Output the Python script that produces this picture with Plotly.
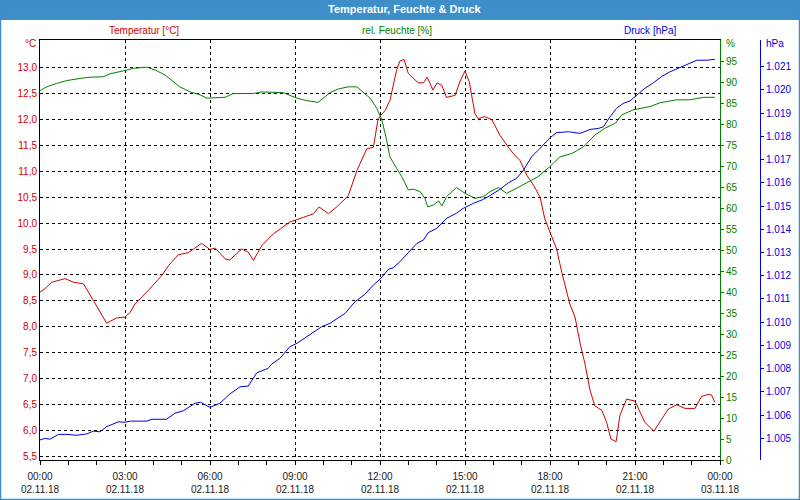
import plotly.graph_objects as go

DAY = "2018-11-02 "

temp_times = ["00:00","00:11","00:25","00:35","00:53","01:11","01:32","01:53","02:21","02:42","03:00","03:11","03:21","03:46",
              "04:18","04:32","04:53","05:14","05:42","06:00","06:11","06:32","06:42","07:07","07:21","07:32","07:50","08:14",
              "08:49","09:18","09:39","09:51","10:11","10:32","10:53","11:11","11:32","11:46","11:56","12:11","12:21","12:35",
              "12:42","12:51","13:00","13:21","13:32","13:40","13:52","14:01","14:11","14:21","14:39","14:49","15:00","15:09",
              "15:21","15:28","15:42","15:57","16:14","16:32","16:42","16:56","17:11","17:25","17:39","17:49","18:00","18:14",
              "18:25","18:42","18:53","19:04","19:14","19:25","19:35","19:50","20:00","20:09","20:20","20:28","20:42","21:00",
              "21:21","21:40","21:57","22:11","22:28","22:46","23:07","23:21","23:35","23:42","23:49"]
temp_vals = [8.67,8.74,8.86,8.89,8.93,8.86,8.83,8.51,8.07,8.17,8.19,8.28,8.44,8.67,
             8.99,9.18,9.39,9.43,9.61,9.49,9.52,9.31,9.29,9.50,9.44,9.28,9.57,9.79,
             10.02,10.11,10.18,10.31,10.18,10.34,10.53,11.01,11.43,11.46,12.01,12.17,12.36,12.94,
             13.12,13.15,12.88,12.70,12.70,12.81,12.56,12.70,12.65,12.42,12.46,12.72,12.93,12.72,
             12.11,12.01,12.05,11.99,11.69,11.46,11.34,11.21,10.92,10.73,10.50,10.08,9.82,9.50,
             9.05,8.44,8.19,7.67,7.29,6.77,6.48,6.39,6.16,5.84,5.79,6.29,6.61,6.57,
             6.16,5.99,6.23,6.42,6.50,6.43,6.43,6.66,6.70,6.69,6.55]

hum_times = ["00:00","00:14","00:35","00:57","01:25","01:46","02:14","02:28","03:00","03:18","03:46","04:04","04:25","04:42",
             "04:56","05:18","05:39","05:53","06:32","06:49","07:32","07:50","08:35","09:04","09:25","09:49","10:14","10:32",
             "10:53","11:11","11:39","11:53","12:04","12:14","12:21","12:35","12:46","13:00","13:11","13:25","13:35","13:41",
             "13:53","14:04","14:11","14:21","14:42","15:00","15:21","15:39","15:53","16:11","16:28","16:49","17:11","17:35",
             "18:00","18:21","18:46","19:11","19:35","19:56","20:18","20:32","20:56","21:32","21:53","22:28","22:56","23:25","23:49"]
hum_vals = [88.1,89.0,89.8,90.5,91.0,91.3,91.4,92.1,92.9,93.4,93.7,93.0,91.8,90.2,
            89.0,87.8,87.1,86.3,86.5,87.4,87.4,87.8,87.6,86.3,85.7,85.3,87.6,88.5,
            89.0,89.0,86.3,83.9,81.1,76.3,72.3,69.6,67.6,64.4,64.6,64.0,62.4,60.4,
            60.8,61.8,60.6,62.8,65.0,63.6,62.4,62.8,64.0,65.0,63.6,64.8,66.1,67.6,
            70.0,72.3,73.1,74.7,77.5,79.1,80.3,82.3,83.5,84.3,85.2,85.9,85.9,86.5,86.5]

pres_times = ["00:00","00:11","00:21","00:39","00:57","01:18","01:39","01:53","02:07","02:21","02:46","03:00","03:11","03:46",
              "03:57","04:28","04:46","05:04","05:28","05:40","06:00","06:21","06:42","07:04","07:21","07:39","08:03","08:11",
              "08:28","08:49","09:04","09:25","09:56","10:14","10:46","11:07","11:28","11:46","12:00","12:18","12:28","12:42",
              "13:04","13:18","13:32","13:42","14:00","14:21","14:42","14:56","15:18","15:39","15:53","16:14","16:32","16:49",
              "17:04","17:21","17:42","18:00","18:14","18:39","19:04","19:25","19:42","19:53","20:07","20:21","20:35","20:49",
              "21:04","21:21","21:39","21:56","22:14","22:35","22:53","23:11","23:32","23:49"]
pres_vals = [1004.93,1005.00,1004.96,1005.17,1005.17,1005.13,1005.19,1005.31,1005.28,1005.50,1005.71,1005.69,1005.74,1005.74,
             1005.82,1005.82,1006.08,1006.19,1006.51,1006.55,1006.33,1006.51,1006.91,1007.22,1007.25,1007.82,1008.01,1008.20,
             1008.44,1008.94,1009.09,1009.37,1009.80,1009.95,1010.38,1010.88,1011.20,1011.60,1011.85,1012.28,1012.34,1012.60,
             1013.08,1013.39,1013.54,1013.85,1014.04,1014.47,1014.69,1014.90,1015.12,1015.29,1015.45,1015.72,1016.00,1016.19,
             1016.55,1017.12,1017.55,1017.94,1018.16,1018.20,1018.13,1018.30,1018.34,1018.41,1018.84,1019.21,1019.42,1019.52,
             1019.78,1020.07,1020.31,1020.57,1020.78,1020.97,1021.14,1021.28,1021.28,1021.32]

# tick values shown on the three value axes
temp_ticks = [5.5, 6.0, 6.5, 7.0, 7.5, 8.0, 8.5, 9.0, 9.5, 10.0, 10.5, 11.0, 11.5, 12.0, 12.5, 13.0]
hum_ticks = [0, 5, 10, 15, 20, 25, 30, 35, 40, 45, 50, 55, 60, 65, 70, 75, 80, 85, 90, 95]
pres_ticks = [1005, 1006, 1007, 1008, 1009, 1010, 1011, 1012, 1013, 1014, 1015, 1016, 1017, 1018, 1019, 1020, 1021]

TITLE = "Temperatur, Feuchte & Druck"
series_names = ["Temperatur [°C]", "rel. Feuchte [%]", "Druck [hPa]"]
unit_labels = ["°C", "%", "hPa"]

RED = "#d00000"
GREEN = "#008000"
BLUE = "#0000e0"
BAR = "#3d8ec9"
FONT = "Liberation Sans"

W, H = 800, 500
ML, MR, MT, MB = 40, 40, 40, 40
PW = W - ML - MR
PH = H - MT - MB


def px(xp):
    return (xp - ML) / PW


def py(yp):
    return (H - MB - yp) / PH


fig = go.Figure()
fig.add_trace(go.Scatter(x=[DAY + t for t in temp_times], y=temp_vals, mode="lines",
                         line=dict(color=RED, width=1), yaxis="y", name=series_names[0]))
fig.add_trace(go.Scatter(x=[DAY + t for t in hum_times], y=hum_vals, mode="lines",
                         line=dict(color=GREEN, width=1), yaxis="y2", name=series_names[1]))
fig.add_trace(go.Scatter(x=[DAY + t for t in pres_times], y=pres_vals, mode="lines",
                         line=dict(color=BLUE, width=1), yaxis="y3", name=series_names[2]))

fig.update_layout(
    width=W, height=H,
    margin=dict(l=ML, r=MR, t=MT, b=MB, autoexpand=False),
    paper_bgcolor="white", plot_bgcolor="white",
    showlegend=False,
    separators=",.",
    font=dict(family=FONT, size=10, color="#202020"),
    xaxis=dict(
        type="date", domain=[0, 680 / PW], automargin=False,
        range=["2018-11-02 00:00", "2018-11-03 00:00"],
        dtick=3 * 3600 * 1000, tick0="2018-11-02 00:00",
        tickformat="%H:%M<br>%d.%m.%y",
        showline=True, linecolor="black", linewidth=1, mirror=True,
        showgrid=True, gridcolor="black", gridwidth=1, griddash="3px,3px",
        ticks="outside", ticklen=4, tickcolor="black", ticklabelstandoff=3,
        minor=dict(dtick=3600 * 1000, ticks="outside", ticklen=4, tickcolor="black", showgrid=False),
        tickfont=dict(family=FONT, size=10, color="#202020"),
        zeroline=False,
    ),
    yaxis=dict(
        range=[5.436, 13.526], tickmode="array", tickvals=temp_ticks, tickformat=".1f", automargin=False,
        showline=True, linecolor="black", linewidth=1,
        showgrid=True, gridcolor="black", gridwidth=1, griddash="3px,3px",
        ticks="", tickfont=dict(family=FONT, size=10, color=RED),
        zeroline=False,
    ),
    yaxis2=dict(
        range=[0, 100.17], tickmode="array", tickvals=hum_ticks, overlaying="y", side="right", anchor="x",
        showline=True, linecolor=GREEN, linewidth=1, showgrid=False, automargin=False,
        ticks="outside", ticklen=3, tickcolor=GREEN,
        tickfont=dict(family=FONT, size=10, color=GREEN), zeroline=False,
    ),
    yaxis3=dict(
        range=[1004.066, 1022.15], tickmode="array", tickvals=pres_ticks, tickformat=",d",
        overlaying="y", side="right", anchor="free", position=1.0, automargin=False,
        showline=True, linecolor=BLUE, linewidth=1, showgrid=False,
        ticks="outside", ticklen=3, tickcolor=BLUE,
        tickfont=dict(family=FONT, size=10, color=BLUE), zeroline=False,
    ),
)

x0, x1 = px(0), px(W)
y0, y1 = py(H), py(0)
fig.add_shape(type="rect", xref="paper", yref="paper", x0=x0, x1=x1, y0=py(20), y1=y1,
              fillcolor=BAR, line=dict(width=0), layer="below")
fig.add_shape(type="rect", xref="paper", yref="paper", x0=px(0.5), x1=px(W - 0.5), y0=py(H - 0.5), y1=py(0.5),
              fillcolor="rgba(0,0,0,0)", line=dict(color=BAR, width=1.5))

fig.add_annotation(text="<b>" + TITLE + "</b>", xref="paper", yref="paper", x=px(404), y=py(9),
                   xanchor="center", yanchor="middle", showarrow=False,
                   font=dict(family=FONT, size=11, color="white"))

for name, xc, col in zip(series_names, [144, 397, 650], [RED, GREEN, BLUE]):
    fig.add_annotation(text=name, xref="paper", yref="paper", x=px(xc), y=py(30),
                       xanchor="center", yanchor="middle", showarrow=False,
                       font=dict(family=FONT, size=10, color=col))

fig.add_annotation(text=unit_labels[0], xref="paper", yref="paper", x=px(38), y=py(44),
                   xanchor="right", yanchor="middle", showarrow=False, font=dict(family=FONT, size=10, color=RED))
fig.add_annotation(text=unit_labels[1], xref="paper", yref="paper", x=px(724), y=py(44),
                   xanchor="left", yanchor="middle", showarrow=False, font=dict(family=FONT, size=10, color=GREEN))
fig.add_annotation(text=unit_labels[2], xref="paper", yref="paper", x=px(764), y=py(44),
                   xanchor="left", yanchor="middle", showarrow=False, font=dict(family=FONT, size=10, color=BLUE))

fig.write_html("out.html")
